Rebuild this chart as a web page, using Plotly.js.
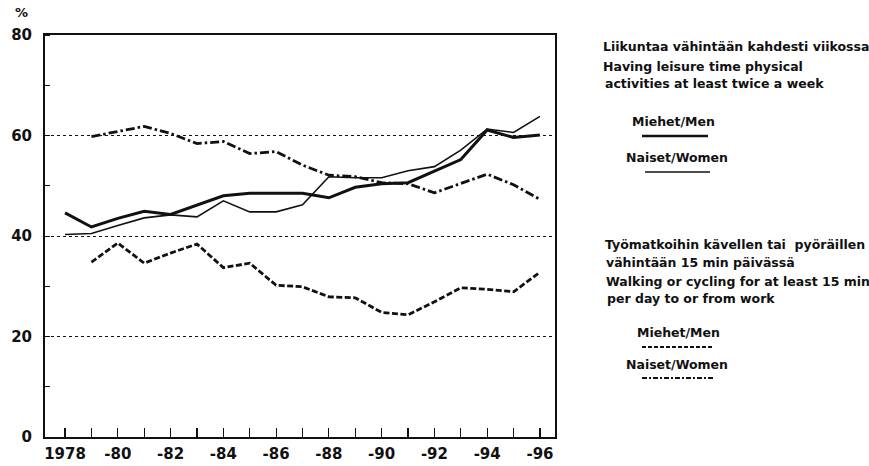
<!DOCTYPE html>
<html>
<head>
<meta charset="utf-8">
<script src="https://cdn.plot.ly/plotly-3.0.1.min.js"></script>
<style>html,body{margin:0;padding:0;background:#fff;}#chart{width:869px;height:466px;}</style>
</head>
<body>
<div id="chart"></div>
<script>
const years = [1978,1979,1980,1981,1982,1983,1984,1985,1986,1987,1988,1989,1990,1991,1992,1993,1994,1995,1996];
const walkYears = [1979,1980,1981,1982,1983,1984,1985,1986,1987,1988,1989,1990,1991,1992,1993,1994,1995,1996];
const leisureMen   = [44.6,41.8,43.5,44.9,44.3,46.2,48.0,48.5,48.5,48.5,47.6,49.7,50.4,50.6,52.9,55.2,61.1,59.6,60.1];
const leisureWomen = [40.3,40.5,42.1,43.6,44.2,43.8,47.0,44.8,44.8,46.2,51.8,51.6,51.6,53.0,53.8,57.1,61.3,60.6,63.8];
const walkMen      = [34.8,38.6,34.6,36.6,38.4,33.7,34.6,30.2,29.9,27.9,27.7,24.8,24.3,26.9,29.7,29.4,28.9,32.8];
const walkWomen    = [59.8,60.8,61.8,60.4,58.4,58.8,56.4,56.8,54.1,52.1,51.8,50.6,50.4,48.6,50.5,52.3,50.2,47.3];
const yTickVals = [0,20,40,60,80];
const xTickText = ["1978","","-80","","-82","","-84","","-86","","-88","","-90","","-92","","-94","","-96"];

const FONT = "DejaVu Sans, Verdana, sans-serif";
// pixel helpers for paper coordinates (plot: x 45..555, y 35..437)
const px = x => (x - 45) / 510;
const py = y => (437 - y) / 402;

const traces = [
  {x: years, y: leisureMen, mode: 'lines', line: {color: '#111', width: 3}, name: 'Men leisure'},
  {x: years, y: leisureWomen, mode: 'lines', line: {color: '#111', width: 1.6}, name: 'Women leisure'},
  {x: walkYears, y: walkMen, mode: 'lines', line: {color: '#111', width: 2.8, dash: '6px,2.5px'}, name: 'Men walk'},
  {x: walkYears, y: walkWomen, mode: 'lines', line: {color: '#111', width: 2.8, dash: '9px,3px,2.5px,3px'}, name: 'Women walk'}
];

const txt = (x, y, s, anchor) => ({xref: 'paper', yref: 'paper', x: px(x), y: py(y), text: s, showarrow: false,
  xanchor: anchor || 'left', yanchor: 'middle', font: {family: FONT, size: 12.5, color: '#111', weight: 'bold'}});

const annotations = [
  {xref: 'paper', yref: 'paper', x: px(21), y: py(13), text: '%', showarrow: false, xanchor: 'center', yanchor: 'middle',
   font: {family: FONT, size: 13, color: '#111', weight: 'bold'}},
  txt(601, 47, 'Liikuntaa vähintään kahdesti viikossa'),
  txt(601, 67, 'Having leisure time physical'),
  txt(603, 83, 'activities at least twice a week'),
  txt(673, 121, 'Miehet/Men', 'center'),
  txt(677, 157, 'Naiset/Women', 'center'),
  txt(603, 245, 'Työmatkoihin kävellen tai  pyöräillen'),
  txt(604, 262, 'vähintään 15 min päivässä'),
  txt(604, 281, 'Walking or cycling for at least 15 min'),
  txt(605, 298, 'per day to or from work'),
  txt(678, 332, 'Miehet/Men', 'center'),
  txt(677, 364, 'Naiset/Women', 'center')
];

const ln = (x0, x1, y, w, dash) => ({type: 'line', xref: 'paper', yref: 'paper', x0: px(x0), x1: px(x1), y0: py(y), y1: py(y),
  line: {color: '#111', width: w, dash: dash || 'solid'}});

const shapes = [
  ln(642, 708, 136, 2.6),
  ln(645, 710, 172, 1.6),
  ln(642, 713, 347, 2, '4px,2px'),
  ln(642, 713, 378, 2, '5px,2px,2px,2px')
];

const layout = {
  width: 869, height: 466,
  margin: {l: 45, r: 314, t: 35, b: 29, pad: 0},
  paper_bgcolor: '#fff', plot_bgcolor: '#fff',
  showlegend: false,
  font: {family: FONT, color: '#111'},
  xaxis: {
    range: [1977.24, 1996.57], tickvals: years, ticktext: xTickText,
    ticks: 'inside', ticklen: 9, tickwidth: 1.2, tickcolor: '#111',
    showline: true, linewidth: 2, linecolor: '#111', mirror: true,
    showgrid: false, zeroline: false, ticklabelstandoff: 2,
    tickfont: {family: FONT, size: 15, color: '#111', weight: 'bold'}
  },
  yaxis: {
    range: [0, 80], tickvals: yTickVals, ticks: '',
    showline: true, linewidth: 2, linecolor: '#111', mirror: true,
    showgrid: true, gridcolor: '#111', gridwidth: 1, griddash: 'dot',
    zeroline: false, ticklabelstandoff: 8,
    minor: {dtick: 10, ticks: 'inside', ticklen: 5, tickwidth: 1, tickcolor: '#111', showgrid: false},
    tickfont: {family: FONT, size: 15, color: '#111', weight: 'bold'}
  },
  annotations: annotations,
  shapes: shapes
};

Plotly.newPlot('chart', traces, layout, {staticPlot: true, displayModeBar: false});
</script>
</body>
</html>
